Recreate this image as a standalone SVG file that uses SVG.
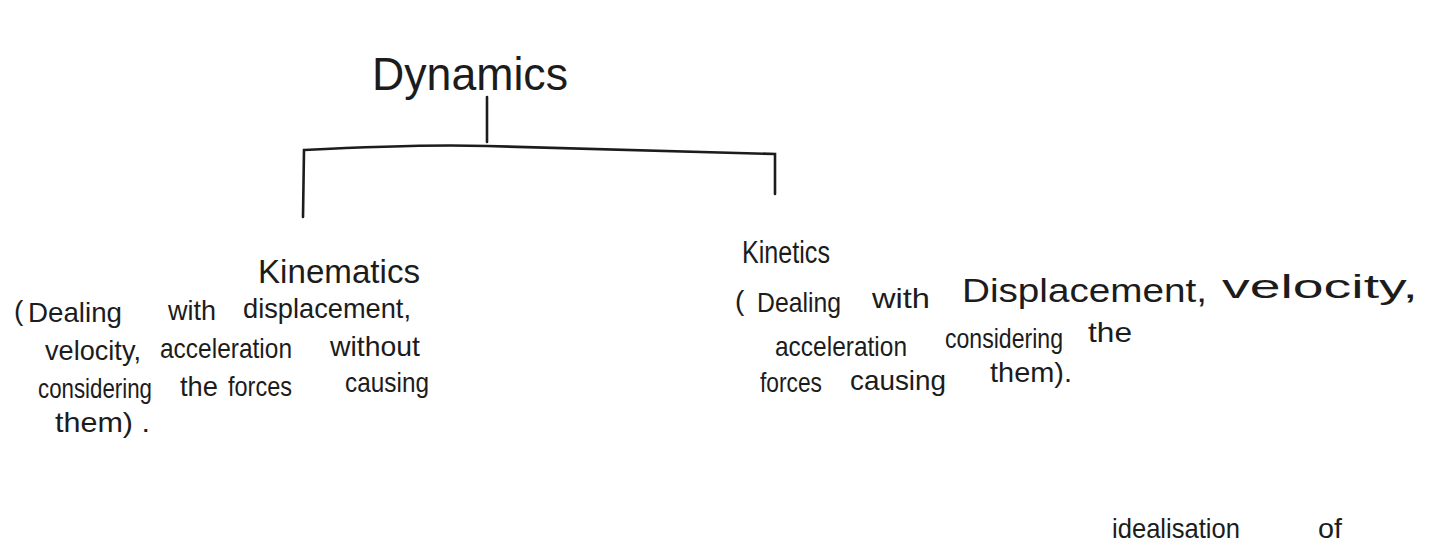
<svg xmlns="http://www.w3.org/2000/svg" width="1444" height="548" viewBox="0 0 1444 548">
<style>
text{font-family:"Liberation Sans","DejaVu Sans",sans-serif;fill:#1c1c1c}
.t{font-size:28px}
.h{font-size:33px}
.c{stroke:#1c1c1c;stroke-width:2.6;fill:none;stroke-linecap:round}
</style>
<rect width="1444" height="548" fill="#ffffff"/>
<g id="connectors">
<path class="c" d="M487 97 L487 142"/>
<path class="c" d="M303 217 L304 150 Q420 144 487 146 Q640 150 775 154 L775 194"/>
</g>
<g id="dynamics">
<text x="372" y="90" font-size="46" textLength="196" lengthAdjust="spacingAndGlyphs">Dynamics</text>
</g>
<g id="kinematics">
<text class="h" x="258" y="283" textLength="162" lengthAdjust="spacingAndGlyphs">Kinematics</text>
<text class="t" x="14" y="320">(</text>
<text class="t" x="28" y="322" textLength="94" lengthAdjust="spacingAndGlyphs">Dealing</text>
<text class="t" x="168" y="320" textLength="48" lengthAdjust="spacingAndGlyphs">with</text>
<text class="t" x="243" y="318" textLength="168" lengthAdjust="spacingAndGlyphs">displacement,</text>
<text class="t" x="45" y="360" textLength="96" lengthAdjust="spacingAndGlyphs">velocity,</text>
<text class="t" x="160" y="358" textLength="132" lengthAdjust="spacingAndGlyphs">acceleration</text>
<text class="t" x="330" y="356" textLength="90" lengthAdjust="spacingAndGlyphs">without</text>
<text class="t" x="38" y="398" textLength="114" lengthAdjust="spacingAndGlyphs">considering</text>
<text class="t" x="180" y="396" textLength="38" lengthAdjust="spacingAndGlyphs">the</text>
<text class="t" x="228" y="396" textLength="64" lengthAdjust="spacingAndGlyphs">forces</text>
<text class="t" x="345" y="392" textLength="84" lengthAdjust="spacingAndGlyphs">causing</text>
<text class="t" x="55" y="432" textLength="95" lengthAdjust="spacingAndGlyphs">them) .</text>
</g>
<g id="kinetics">
<text x="742" y="263" font-size="31" textLength="88" lengthAdjust="spacingAndGlyphs">Kinetics</text>
<text class="t" x="735" y="310">(</text>
<text class="t" x="757" y="312" textLength="84" lengthAdjust="spacingAndGlyphs">Dealing</text>
<text class="t" x="872" y="308" textLength="58" lengthAdjust="spacingAndGlyphs">with</text>
<text x="962" y="302" font-size="34" textLength="245" lengthAdjust="spacingAndGlyphs">Displacement,</text>
<text x="1222" y="298" font-size="34" textLength="196" lengthAdjust="spacingAndGlyphs">velocity,</text>
<text class="t" x="775" y="356" textLength="132" lengthAdjust="spacingAndGlyphs">acceleration</text>
<text class="t" x="945" y="348" textLength="118" lengthAdjust="spacingAndGlyphs">considering</text>
<text class="t" x="1088" y="342" textLength="44" lengthAdjust="spacingAndGlyphs">the</text>
<text class="t" x="760" y="392" textLength="62" lengthAdjust="spacingAndGlyphs">forces</text>
<text class="t" x="850" y="390" textLength="96" lengthAdjust="spacingAndGlyphs">causing</text>
<text class="t" x="990" y="382" textLength="82" lengthAdjust="spacingAndGlyphs">them).</text>
</g>
<g id="bottom-note">
<text class="t" x="1112" y="538" textLength="128" lengthAdjust="spacingAndGlyphs">idealisation</text>
<text class="t" x="1318" y="538" textLength="24" lengthAdjust="spacingAndGlyphs">of</text>
</g>
</svg>
